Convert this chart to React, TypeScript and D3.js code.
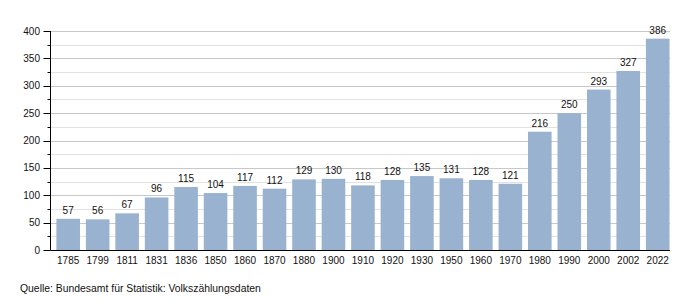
import React from "react";
import * as d3 from "d3";

const years = ["1785","1799","1811","1831","1836","1850","1860","1870","1880","1900","1910","1920","1930","1950","1960","1970","1980","1990","2000","2002","2022"];
const population = [57,56,67,96,115,104,117,112,129,130,118,128,135,131,128,121,216,250,293,327,386];
const majorTicks = [0,50,100,150,200,250,300,350,400];
const minorTicks = [25,75,125,175,225,275,325,375];
const source = "Quelle: Bundesamt für Statistik: Volkszählungsdaten";

const W = 700, H = 300;
const left = 50.5, right = 670, top = 31, bottom = 250;
const font = "'Liberation Sans', Arial, sans-serif";

export default function App() {
  const x = d3.scaleBand<string>().domain(years).range([left, 675.4]).paddingInner(0.2).paddingOuter(0.2);
  const y = d3.scaleLinear().domain([0, 400]).range([bottom, top]);
  return (
    <svg width={W} height={H} style={{ position: "absolute", left: 0, top: 0 }} fontFamily={font}>
      <rect width={W} height={H} fill="#fff" />
      {minorTicks.map(t => (
        <line key={"mg" + t} x1={left} x2={right} y1={Math.round(y(t)) + 0.5} y2={Math.round(y(t)) + 0.5} stroke="#e2e2e2" />
      ))}
      {majorTicks.filter(t => t > 0).map(t => (
        <line key={"g" + t} x1={left} x2={right} y1={Math.round(y(t)) + 0.5} y2={Math.round(y(t)) + 0.5} stroke="#c8c8c8" />
      ))}
      {years.map((yr, i) => (
        <rect key={yr} x={x(yr)} y={y(population[i])} width={x.bandwidth()} height={bottom - y(population[i])} fill="#98b2cf" />
      ))}
      {years.map((yr, i) => (
        <text key={"v" + yr} x={(x(yr) as number) + x.bandwidth() / 2} y={y(population[i]) - 5} textAnchor="middle" fontSize={10} fill="#111">{population[i]}</text>
      ))}
      {years.map(yr => (
        <text key={"l" + yr} x={(x(yr) as number) + x.bandwidth() / 2} y={263.5} textAnchor="middle" fontSize={10} fill="#111">{yr}</text>
      ))}
      {majorTicks.map(t => (
        <g key={"t" + t}>
          <line x1={43.5} x2={left} y1={Math.round(y(t)) + 0.5} y2={Math.round(y(t)) + 0.5} stroke="#000" />
          <text x={40} y={y(t) + 3.5} textAnchor="end" fontSize={10} fill="#111">{t}</text>
        </g>
      ))}
      {minorTicks.map(t => (
        <line key={"mt" + t} x1={47.5} x2={left} y1={Math.round(y(t)) + 0.5} y2={Math.round(y(t)) + 0.5} stroke="#000" />
      ))}
      <line x1={left} x2={left} y1={top} y2={bottom + 0.5} stroke="#000" />
      <line x1={left} x2={right} y1={bottom + 0.5} y2={bottom + 0.5} stroke="#000" />
      <text x={20} y={292} fontSize={10.4} fill="#111">{source}</text>
    </svg>
  );
}
